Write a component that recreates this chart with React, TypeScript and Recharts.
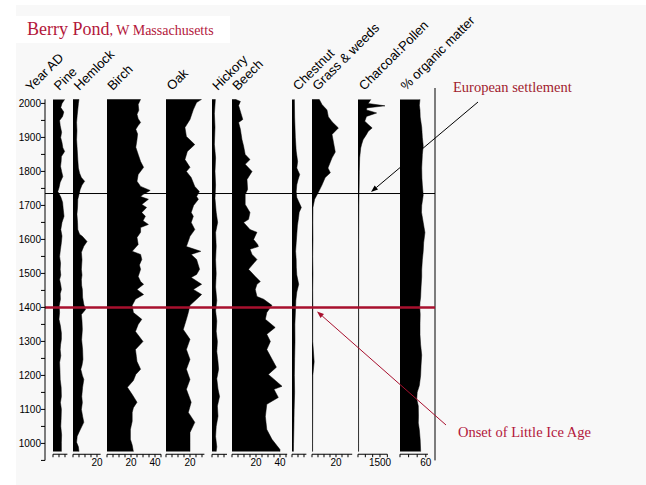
import React from "react";
import {
  ComposedChart,
  Area,
  XAxis,
  YAxis,
  ReferenceLine,
  Customized,
} from "recharts";

const INK = "#000";
const RED = "#a8102e";
const TITLE_RED = "#b3173b";
const NOTE_RED = "#a11b2e";
const BG = "#f8f8f8";
const SANS = "'Liberation Sans', Arial, Helvetica, sans-serif";
const SERIF = "'Liberation Serif', 'Times New Roman', serif";

// year axis
const YEAR_TICKS = [
  950, 1000, 1050, 1100, 1150, 1200, 1250, 1300, 1350, 1400, 1450, 1500, 1550,
  1600, 1650, 1700, 1750, 1800, 1850, 1900, 1950, 2000,
];
const SETTLEMENT_YEAR = 1735;
const LIA_YEAR = 1400;

// [year AD, value], top to bottom
const PINE: [number, number][] = [
  [2012, 9.7], [2000, 7.5], [1988, 6.5], [1975, 9], [1962, 8], [1950, 5.5],
  [1935, 6], [1915, 7.2], [1900, 6.4], [1885, 7.5], [1870, 8.2], [1859, 9.7],
  [1844, 7], [1830, 6.8], [1815, 6.3], [1800, 7.2], [1785, 8.2], [1768, 6],
  [1752, 5], [1741, 4], [1725, 6.5], [1709, 8], [1690, 8.5], [1668, 9.2],
  [1650, 7.5], [1629, 6.5], [1610, 7.5], [1591, 7], [1570, 6.2], [1550, 5.5],
  [1530, 6.3], [1512, 6], [1495, 6.5], [1482, 5.5], [1465, 6.5], [1453, 7],
  [1440, 6], [1424, 6.2], [1405, 5.2], [1385, 5.5], [1365, 5], [1345, 6.2],
  [1325, 7], [1306, 7], [1290, 6.3], [1276, 6], [1258, 6.5], [1238, 5.5],
  [1215, 5.8], [1188, 6], [1165, 6.8], [1138, 7], [1120, 6.2], [1100, 7],
  [1075, 6.8], [1050, 6.5], [1025, 7.2], [1003, 7], [976, 7],
];

const HEMLOCK: [number, number][] = [
  [2012, 5], [2000, 4.5], [1982, 4], [1965, 3.5], [1944, 3], [1920, 3.3],
  [1894, 3], [1865, 3.5], [1835, 4], [1810, 4.5], [1795, 5.5], [1782, 7],
  [1771, 9.7], [1760, 7.5], [1747, 6], [1732, 5], [1718, 4], [1695, 3.8],
  [1674, 3.3], [1650, 3.8], [1629, 4], [1615, 5.5], [1609, 7.8], [1594, 11.7],
  [1580, 9], [1571, 8], [1562, 7], [1540, 7.5], [1512, 7], [1495, 7.5],
  [1482, 7], [1465, 7.2], [1453, 7.8], [1430, 8], [1409, 9], [1394, 10.5],
  [1379, 7], [1360, 7.5], [1335, 7.8], [1305, 7.2], [1276, 8], [1247, 8.3],
  [1230, 7.5], [1218, 6.5], [1200, 7.8], [1188, 9], [1165, 8], [1138, 7.3],
  [1120, 7.8], [1100, 7], [1080, 8], [1062, 9], [1040, 6], [1021, 3.5],
  [1003, 3], [990, 4.5], [976, 5],
];

const BIRCH: [number, number][] = [
  [2012, 28], [1997, 26], [1980, 26.5], [1968, 25], [1955, 26], [1944, 28],
  [1935, 26], [1924, 24], [1910, 25.5], [1894, 25], [1871, 24], [1850, 26],
  [1829, 28], [1812, 30.5], [1791, 26], [1771, 25], [1756, 28], [1744, 36],
  [1732, 30], [1726, 28], [1718, 34.5], [1703, 29], [1694, 33], [1679, 29],
  [1668, 32], [1655, 30], [1644, 34.5], [1635, 28], [1621, 28], [1606, 25],
  [1585, 26], [1565, 21], [1556, 28], [1541, 29], [1525, 27], [1512, 28],
  [1491, 26], [1476, 28], [1468, 30.5], [1453, 25], [1438, 30.5], [1424, 23.7],
  [1406, 21], [1385, 22], [1365, 29], [1350, 26], [1329, 23.7], [1300, 30],
  [1276, 23.7], [1255, 24.5], [1241, 25], [1218, 28], [1203, 24], [1185, 22],
  [1165, 17], [1144, 21], [1121, 25], [1105, 22], [1091, 21], [1065, 21],
  [1041, 19.5], [1012, 19.5], [995, 21], [976, 22],
];

const OAK: [number, number][] = [
  [2012, 29.7], [2003, 25.5], [1982, 22.8], [1953, 20], [1929, 15.8],
  [1903, 17], [1879, 24], [1859, 17.8], [1835, 15.8], [1812, 20], [1800, 17],
  [1782, 21], [1756, 24], [1741, 27.8], [1726, 25.5], [1718, 27], [1700, 23],
  [1679, 21], [1668, 22.8], [1650, 21], [1629, 24], [1609, 20], [1579, 17],
  [1565, 29], [1556, 21], [1541, 25.5], [1512, 28], [1497, 25.5], [1488, 21],
  [1468, 29.7], [1453, 22.8], [1438, 29.7], [1424, 25.5], [1406, 20],
  [1385, 18.6], [1365, 17], [1335, 14.4], [1306, 20], [1276, 17], [1247, 20],
  [1218, 17], [1188, 20], [1159, 17], [1121, 21], [1091, 18.6], [1062, 24],
  [1032, 20], [1003, 20], [976, 20],
];

const HICKORY: [number, number][] = [
  [2012, 2.8], [1970, 2], [1930, 2.5], [1880, 2], [1840, 3], [1800, 2.5],
  [1760, 3], [1720, 2.5], [1680, 3.5], [1650, 4.7], [1620, 3], [1580, 3.5],
  [1540, 3], [1500, 3.5], [1460, 3], [1420, 4], [1390, 3], [1360, 4],
  [1330, 3.5], [1300, 4.5], [1270, 4], [1240, 5], [1218, 5.5], [1190, 4],
  [1160, 5], [1138, 6.3], [1110, 4.5], [1080, 5], [1050, 3.5], [1020, 3],
  [990, 4], [976, 3.5],
];

const BEECH: [number, number][] = [
  [2012, 2.8], [2006, 7], [1994, 5.5], [1953, 9], [1944, 5.5], [1924, 7],
  [1894, 8.3], [1874, 9.7], [1850, 11], [1835, 15], [1821, 11], [1800, 16.7],
  [1776, 12.5], [1747, 13], [1732, 11], [1703, 11], [1679, 15], [1659, 13.8],
  [1650, 9.7], [1629, 15], [1621, 20.8], [1600, 18], [1585, 21.4], [1579, 22],
  [1571, 15], [1556, 16.7], [1541, 20.8], [1512, 13.8], [1491, 19.4],
  [1476, 23.6], [1468, 20.8], [1453, 19.4], [1432, 20.8], [1424, 26.4],
  [1406, 33.3], [1385, 29], [1365, 27.8], [1341, 36], [1321, 29], [1300, 32],
  [1276, 29], [1224, 37], [1203, 30.3], [1168, 41.7], [1159, 35], [1135, 38.6],
  [1115, 29], [1079, 27.8], [1041, 29], [1012, 33.3], [982, 40], [976, 40],
];

const CHESTNUT: [number, number][] = [
  [2012, 2], [1960, 2.2], [1900, 2.8], [1860, 3.5], [1829, 4.7], [1810, 4],
  [1791, 6.4], [1775, 5], [1761, 4], [1740, 3.5], [1723, 4], [1708, 6],
  [1694, 7.8], [1680, 6], [1665, 5.5], [1640, 4.5], [1615, 4], [1590, 3.5],
  [1565, 3], [1540, 3.5], [1518, 3.6], [1495, 4], [1468, 5.6], [1445, 4],
  [1420, 3.2], [1400, 3], [1350, 2.4], [1300, 2.5], [1250, 2.2], [1200, 2],
  [1150, 2.2], [1100, 1.8], [1050, 1.6], [1000, 1.3], [976, 1.2],
];

const GRASS: [number, number][] = [
  [2012, 6], [2006, 7], [1997, 8.3], [1981, 12.5], [1961, 13.6], [1946, 16.7],
  [1928, 22], [1909, 16.7], [1884, 18], [1857, 19.4], [1840, 16.7],
  [1810, 13.3], [1796, 15.3], [1782, 11], [1760, 8.3], [1740, 5.5], [1730, 4],
  [1718, 2.2], [1694, 0.8], [1650, 0.7], [1600, 0.8], [1550, 0.6], [1500, 0.8],
  [1450, 0.6], [1400, 0.7], [1300, 0.6], [1240, 1.8], [1200, 0.7], [1100, 0.6],
  [1000, 0.5], [976, 0.5],
];

const CHARCOAL: [number, number][] = [
  [2012, 875], [2000, 700], [1993, 1840], [1987, 600], [1981, 580],
  [1972, 1270], [1962, 580], [1948, 460], [1938, 700], [1928, 965],
  [1918, 700], [1909, 580], [1893, 345], [1880, 250], [1869, 185],
  [1840, 115], [1800, 90], [1760, 80], [1735, 70], [1700, 60], [1600, 50],
  [1500, 50], [1400, 45], [1300, 45], [1200, 40], [1100, 40], [1000, 40],
  [976, 40],
];

const ORGANIC: [number, number][] = [
  [2012, 46.5], [1995, 45], [1980, 46.5], [1960, 47], [1930, 50.5],
  [1900, 52], [1875, 54], [1850, 52], [1810, 50.5], [1780, 51], [1760, 52],
  [1730, 54], [1700, 50.5], [1680, 50], [1650, 54], [1620, 58], [1590, 55],
  [1565, 54], [1540, 52], [1510, 50.5], [1490, 50.5], [1460, 49], [1430, 48],
  [1415, 46.5], [1400, 46], [1380, 47], [1350, 46.5], [1320, 46.5],
  [1290, 48], [1260, 50.5], [1230, 49], [1200, 48], [1170, 45], [1150, 40],
  [1130, 39], [1110, 42.6], [1080, 43], [1060, 42.6], [1040, 45], [1010, 47],
  [980, 48], [976, 48],
];

// panel layout (pixels) and axis settings
const PANELS = [
  { name: "Pine", data: PINE, x0: 53.3, max: 12, px: 1.2, ticks: [0, 5, 10], labels: [] as number[] },
  { name: "Hemlock", data: HEMLOCK, x0: 73.3, max: 23, px: 1.2, ticks: [0, 5, 10, 15, 20], labels: [20] },
  { name: "Birch", data: BIRCH, x0: 106.7, max: 45, px: 1.2, ticks: [0, 5, 10, 15, 20, 25, 30, 35, 40, 45], labels: [20, 40] },
  { name: "Oak", data: OAK, x0: 166, max: 32, px: 1.2, ticks: [0, 5, 10, 15, 20, 25, 30], labels: [20] },
  { name: "Hickory", data: HICKORY, x0: 211.7, max: 12.5, px: 1.2, ticks: [0, 5, 10], labels: [] as number[] },
  { name: "Beech", data: BEECH, x0: 231.7, max: 46, px: 1.2, ticks: [0, 5, 10, 15, 20, 25, 30, 35, 40, 45], labels: [20, 40] },
  { name: "Chestnut", data: CHESTNUT, x0: 292.3, max: 12, px: 1.2, ticks: [0, 5, 10], labels: [] as number[] },
  { name: "Grass & weeds", data: GRASS, x0: 311.7, max: 33.5, px: 1.2, ticks: [0, 5, 10, 15, 20, 25, 30], labels: [20] },
  { name: "Charcoal:Pollen", data: CHARCOAL, x0: 358.3, max: 2000, px: 0.01467, ticks: [0, 500, 1000, 1500, 2000], labels: [1500] },
  { name: "% organic matter", data: ORGANIC, x0: 400, max: 65, px: 0.43, ticks: [0, 20, 40, 60], labels: [60] },
];

const W = 646;
const H = 485;
const PLOT_TOP = 99;
const PX_PER_YEAR = 0.34;
const PANEL_YEARS: [number, number] = [968, 2013];
const AXIS_YEARS: [number, number] = [950, 2012];
const BOTTOM_AXIS_H = 20;
const PANEL_BOTTOM =
  H - PLOT_TOP - (PANEL_YEARS[1] - PANEL_YEARS[0]) * PX_PER_YEAR - BOTTOM_AXIS_H;
const AXIS_TOP = PLOT_TOP + (PANEL_YEARS[1] - AXIS_YEARS[1]) * PX_PER_YEAR;
const AXIS_BOTTOM = H - AXIS_TOP - (AXIS_YEARS[1] - AXIS_YEARS[0]) * PX_PER_YEAR;
const PLOT_LEFT = 45;
const PLOT_RIGHT = 435;

// same mapping as the year axis, for the annotation arrows
const yearY = (year: number) => AXIS_TOP + (AXIS_YEARS[1] - year) * PX_PER_YEAR;

function Panel({ p }: { p: (typeof PANELS)[number] }) {
  const ml = 2;
  const mr = 10;
  const data = p.data.map(([year, v]) => ({ year, v }));
  return (
    <div style={{ position: "absolute", left: p.x0 - ml, top: 0 }}>
      <ComposedChart
        layout="vertical"
        width={ml + p.max * p.px + mr}
        height={H}
        data={data}
        margin={{ top: PLOT_TOP, right: mr, bottom: PANEL_BOTTOM, left: ml }}
      >
        <XAxis
          xAxisId="t"
          orientation="top"
          type="number"
          domain={[0, p.max]}
          ticks={p.ticks}
          interval={0}
          allowDataOverflow
          height={0}
          tick={false}
          tickSize={-2}
          axisLine={{ stroke: INK }}
          tickLine={{ stroke: INK }}
        />
        <XAxis
          xAxisId="b"
          orientation="bottom"
          type="number"
          domain={[0, p.max]}
          ticks={p.ticks}
          interval={0}
          allowDataOverflow
          height={BOTTOM_AXIS_H}
          tickSize={3}
          tickMargin={2}
          axisLine={{ stroke: INK }}
          tickLine={{ stroke: INK }}
          tick={(t: any) =>
            p.labels.includes(t.payload.value) ? (
              <text
                x={t.x}
                y={t.y}
                dy="0.71em"
                textAnchor="middle"
                fontSize={10}
                fontFamily={SANS}
                fill={INK}
              >
                {t.payload.value}
              </text>
            ) : (
              <g />
            )
          }
        />
        <YAxis
          type="number"
          dataKey="year"
          domain={PANEL_YEARS}
          allowDataOverflow
          reversed
          width={0}
          tick={false}
          tickLine={false}
          axisLine={{ stroke: INK, strokeWidth: 1.2 }}
        />
        <Area
          xAxisId="b"
          dataKey="v"
          type="linear"
          fill={INK}
          fillOpacity={1}
          stroke={INK}
          strokeWidth={0.5}
          dot={false}
          activeDot={false}
          isAnimationActive={false}
        />
      </ComposedChart>
    </div>
  );
}

function Arrow({ x1, y1, x2, y2, color }: { x1: number; y1: number; x2: number; y2: number; color: string }) {
  const a = Math.atan2(y2 - y1, x2 - x1);
  const len = 7;
  const half = 2.6;
  const bx = x2 - len * Math.cos(a);
  const by = y2 - len * Math.sin(a);
  const nx = -Math.sin(a) * half;
  const ny = Math.cos(a) * half;
  return (
    <g>
      <line x1={x1} y1={y1} x2={bx} y2={by} stroke={color} strokeWidth={1} />
      <polygon points={`${x2},${y2} ${bx + nx},${by + ny} ${bx - nx},${by - ny}`} fill={color} />
    </g>
  );
}

function Annotations() {
  return (
    <g>
      <line x1={PLOT_RIGHT} y1={88} x2={PLOT_RIGHT} y2={yearY(AXIS_YEARS[0])} stroke={INK} strokeWidth={1} />
      <Arrow x1={478} y1={102} x2={371} y2={yearY(SETTLEMENT_YEAR) - 1.5} color={INK} />
      <Arrow x1={446} y1={425} x2={317} y2={yearY(LIA_YEAR) + 4} color={RED} />
      <text x={27} y={35} fill={TITLE_RED} fontFamily={SERIF}>
        <tspan fontSize={18}>Berry Pond</tspan>
        <tspan fontSize={14}>, W Massachusetts</tspan>
      </text>
      <text x={31} y={92} fontSize={13} fontFamily={SANS} fill={INK} transform="rotate(-45 31 92)">
        Year AD
      </text>
      {PANELS.map((p) => (
        <text
          key={p.name}
          x={p.x0 + 6}
          y={91}
          fontSize={13}
          fontFamily={SANS}
          fill={INK}
          transform={`rotate(-45 ${p.x0 + 6} 91)`}
        >
          {p.name}
        </text>
      ))}
      <text x={453} y={92} fontSize={14.5} fontFamily={SERIF} fill={NOTE_RED}>
        European settlement
      </text>
      <text x={458} y={437} fontSize={14.5} fontFamily={SERIF} fill={TITLE_RED}>
        Onset of Little Ice Age
      </text>
    </g>
  );
}

function Overlay() {
  return (
    <div style={{ position: "absolute", left: 0, top: 0, pointerEvents: "none" }}>
      <ComposedChart
        width={W}
        height={H}
        data={YEAR_TICKS.map((year) => ({ year }))}
        margin={{ top: AXIS_TOP, right: W - PLOT_RIGHT, bottom: AXIS_BOTTOM, left: 5 }}
      >
        <XAxis type="number" domain={[PLOT_LEFT, PLOT_RIGHT]} allowDataOverflow hide />
        <YAxis
          type="number"
          domain={AXIS_YEARS}
          ticks={YEAR_TICKS}
          interval={0}
          allowDataOverflow
          width={PLOT_LEFT - 5}
          tickSize={4}
          tickMargin={0}
          axisLine={{ stroke: INK }}
          tickLine={{ stroke: INK }}
          tick={(t: any) =>
            t.payload.value % 100 === 0 ? (
              <text x={t.x} y={t.y} dy="0.355em" textAnchor="end" fontSize={10} fontFamily={SANS} fill={INK}>
                {t.payload.value}
              </text>
            ) : (
              <g />
            )
          }
        />
        <ReferenceLine y={SETTLEMENT_YEAR} stroke={INK} strokeWidth={1} ifOverflow="visible" />
        <ReferenceLine y={LIA_YEAR} stroke={RED} strokeWidth={2.5} ifOverflow="visible" />
        <Customized component={Annotations} />
      </ComposedChart>
    </div>
  );
}

export default function App() {
  return (
    <div style={{ position: "relative", width: W, height: H, background: "#fff", overflow: "hidden" }}>
      <style>{"body{margin:0}"}</style>
      <div style={{ position: "absolute", left: 16, top: 5, right: 0, bottom: 0, background: BG }} />
      <div style={{ position: "absolute", left: 16, top: 16, width: 214, height: 27, background: "#fff" }} />
      {PANELS.map((p) => (
        <Panel key={p.name} p={p} />
      ))}
      <Overlay />
    </div>
  );
}
